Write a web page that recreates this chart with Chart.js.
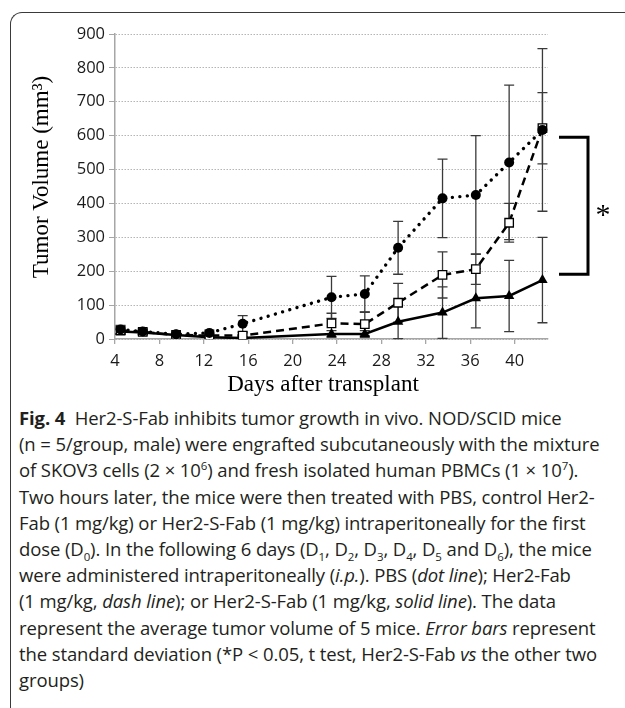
<!DOCTYPE html>
<html>
<head>
<meta charset="utf-8">
<script src="https://cdn.jsdelivr.net/npm/chart.js@4.4.0/dist/chart.umd.min.js"></script>
<style>
  html, body { margin: 0; padding: 0; background: #fff; }
  body { width: 625px; height: 708px; overflow: hidden; position: relative; }
  #frame {
    position: absolute; left: 10px; top: 12px; width: 700px; height: 800px;
    border-top: 1.5px solid #3a3a3a; border-left: 1.5px solid #3a3a3a;
    border-top-left-radius: 12px;
  }
  #wrap { position: absolute; left: 0; top: 0; width: 625px; height: 400px; }
  #caption {
    position: absolute; left: 19px; top: 405px;
    font-family: "Open Sans"; font-size: 18.5px; line-height: 26.2px;
    letter-spacing: -0.1px;
    color: #231f20; white-space: nowrap;
  }
  #caption b { font-weight: 700; }
  sub, sup { font-size: 0.62em; line-height: 0; }
</style>
</head>
<body>
<div id="frame"></div>
<div id="wrap"><canvas id="grafico" width="625" height="400"></canvas></div>
<div id="caption">
  <div><b>Fig. 4</b>&nbsp; Her2-S-Fab inhibits tumor growth in vivo. NOD/SCID mice</div>
  <div>(n = 5/group, male) were engrafted subcutaneously with the mixture</div>
  <div>of SKOV3 cells (2 × 10<sup>6</sup>) and fresh isolated human PBMCs (1 × 10<sup>7</sup>).</div>
  <div>Two hours later, the mice were then treated with PBS, control Her2-</div>
  <div>Fab (1 mg/kg) or Her2-S-Fab (1 mg/kg) intraperitoneally for the first</div>
  <div>dose (D<sub>0</sub>). In the following 6 days (D<sub>1</sub>, D<sub>2</sub>, D<sub>3</sub>, D<sub>4</sub>, D<sub>5</sub> and D<sub>6</sub>), the mice</div>
  <div>were administered intraperitoneally (<i>i.p.</i>). PBS (<i>dot line</i>); Her2-Fab</div>
  <div>(1 mg/kg, <i>dash line</i>); or Her2-S-Fab (1 mg/kg, <i>solid line</i>). The data</div>
  <div>represent the average tumor volume of 5 mice. <i>Error bars</i> represent</div>
  <div>the standard deviation (*P &lt; 0.05, t test, Her2-S-Fab <i>vs</i> the other two</div>
  <div>groups)</div>
</div>
<script>
// dias de medição (posição no eixo)
const days = [4.5, 6.5, 9.5, 12.5, 15.5, 23.5, 26.5, 29.5, 33.5, 36.5, 39.5, 42.5];

// PBS (dot line)
const pbs   = [28, 22, 14, 18, 45, 123, 133, 269, 415, 425, 521, 617];
const pbsSd = [12, 8, 6, 8, 24, 62, 53, 78, 116, 175, 228, 240];

// Her2-Fab (dash line)
const fab   = [25, 21, 12, 10, 10, 46, 44, 107, 189, 206, 343, 622];
const fabSd = [10, 6, 5, 5, 8, 30, 35, 57, 68, 45, 57, 105];

// Her2-S-Fab (solid line)
const sfab   = [22, 19, 12, 5, 3, 15, 15, 51, 78, 120, 127, 174];
const sfabSd = [8, 5, 4, 4, 3, 10, 10, 50, 76, 87, 105, 126];

const xTicks = [4, 8, 12, 16, 20, 24, 28, 32, 36, 40];
const yTicks = [0, 100, 200, 300, 400, 500, 600, 700, 800, 900];

const toPoints = vals => days.map((d, i) => ({ x: d, y: vals[i] }));

// barras de erro (desvio padrão)
const errorBars = {
  id: "errorBars",
  beforeDatasetsDraw(chart) {
    const { ctx, scales: { y } } = chart;
    ctx.save();
    ctx.strokeStyle = "#3a3a3a";
    ctx.lineWidth = 1.3;
    chart.data.datasets.forEach((ds, i) => {
      chart.getDatasetMeta(i).data.forEach((pt, j) => {
        const v = ds.data[j].y, e = ds.sd[j];
        const top = y.getPixelForValue(v + e);
        const bot = y.getPixelForValue(Math.max(v - e, 0));
        ctx.beginPath();
        ctx.moveTo(pt.x, top); ctx.lineTo(pt.x, bot);
        ctx.moveTo(pt.x - 5, top); ctx.lineTo(pt.x + 5, top);
        ctx.moveTo(pt.x - 5, bot); ctx.lineTo(pt.x + 5, bot);
        ctx.stroke();
      });
    });
    ctx.restore();
  }
};

// títulos dos eixos, colchete e asterisco
const extras = {
  id: "extras",
  afterDraw(chart) {
    const { ctx, chartArea: a, scales: { y } } = chart;
    ctx.save();
    ctx.fillStyle = "#000";
    ctx.font = '23px "Liberation Serif"';
    ctx.textAlign = "center";
    ctx.textBaseline = "middle";
    ctx.fillText("Days after transplant", 323, 385);
    ctx.translate(42, 177);
    ctx.rotate(-Math.PI / 2);
    ctx.fillText("Tumor Volume (mm³)", 0, 0);
    ctx.restore();

    ctx.save();
    ctx.strokeStyle = "#000";
    ctx.lineWidth = 3;
    const top = y.getPixelForValue(595), bot = y.getPixelForValue(191);
    const x0 = a.right + 11, x1 = a.right + 40;
    ctx.beginPath();
    ctx.moveTo(x0, top); ctx.lineTo(x1, top); ctx.lineTo(x1, bot); ctx.lineTo(x0, bot);
    ctx.stroke();
    ctx.fillStyle = "#000";
    ctx.font = '30px "Liberation Serif"';
    ctx.textAlign = "center";
    ctx.fillText("*", x1 + 15, (top + bot) / 2 + 18);
    ctx.restore();
  }
};

const tickFont = { family: "Open Sans", size: 16.5 };

new Chart(document.getElementById("grafico").getContext("2d"), {
  type: "line",
  data: {
    datasets: [
      {
        label: "PBS", data: toPoints(pbs), sd: pbsSd,
        borderColor: "#000", borderWidth: 3.4, borderDash: [0.01, 7.5], borderCapStyle: "round",
        pointStyle: "circle", pointRadius: 5, pointBackgroundColor: "#000", pointBorderColor: "#000", pointBorderWidth: 0
      },
      {
        label: "Her2-Fab", data: toPoints(fab), sd: fabSd,
        borderColor: "#000", borderWidth: 2.5, borderDash: [8, 5],
        pointStyle: "rect", pointRadius: 6, pointBackgroundColor: "#fff", pointBorderColor: "#000", pointBorderWidth: 1.3
      },
      {
        label: "Her2-S-Fab", data: toPoints(sfab), sd: sfabSd,
        borderColor: "#000", borderWidth: 2.5,
        pointStyle: "triangle", pointRadius: 6, pointBackgroundColor: "#000", pointBorderColor: "#000", pointBorderWidth: 0
      }
    ]
  },
  options: {
    responsive: false,
    animation: false,
    layout: { padding: { top: 34, right: 77, left: 0, bottom: 0 } },
    plugins: { legend: { display: false }, tooltip: { enabled: false } },
    scales: {
      x: {
        type: "linear", min: 4, max: 43,
        afterBuildTicks: s => { s.ticks = xTicks.map(v => ({ value: v })); },
        afterFit: s => { s.height = 61; },
        grid: { drawOnChartArea: false, drawTicks: true, tickLength: 5, color: "#a6a6a6", lineWidth: 1.3 },
        border: { color: "#a6a6a6", width: 1.5 },
        ticks: { font: tickFont, color: "#1a1a1a", padding: 7, maxRotation: 0, autoSkip: false }
      },
      y: {
        min: 0, max: 900,
        afterBuildTicks: s => { s.ticks = yTicks.map(v => ({ value: v })); },
        afterFit: s => { s.width = 115; },
        grid: { color: "#b5b5b5", lineWidth: 1, tickLength: 6, tickColor: "#a6a6a6" },
        border: { color: "#a6a6a6", width: 1.5, dash: [1.5, 1.5] },
        ticks: { font: tickFont, color: "#1a1a1a", padding: 4 }
      }
    }
  },
  plugins: [errorBars, extras]
});
</script>
</body>
</html>
